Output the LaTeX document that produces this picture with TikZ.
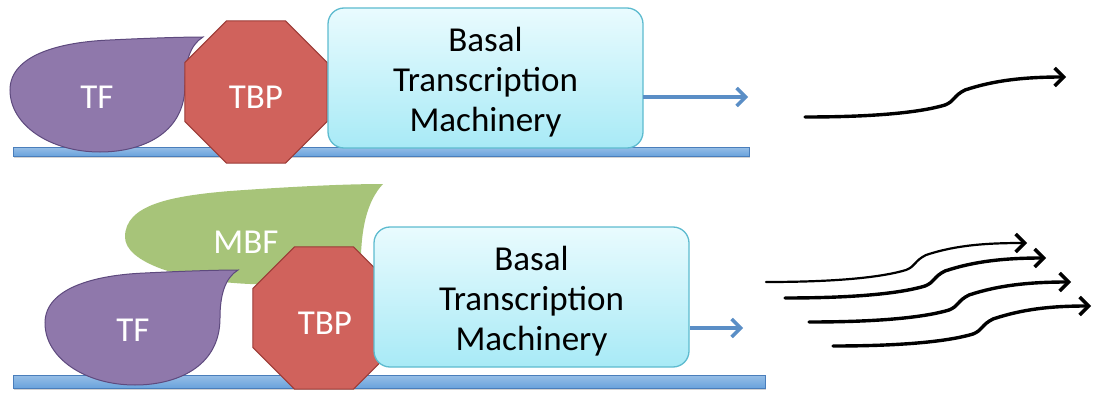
\documentclass[tikz,border=0pt]{standalone}
\usepackage{fontspec}
\setmainfont{Carlito}
\usetikzlibrary{arrows.meta,shapes.geometric,shadows}

\definecolor{dnafill}{HTML}{6AA3DC}
\definecolor{dnaline}{HTML}{4A7EBB}
\definecolor{tffill}{HTML}{8F78AB}
\definecolor{tfline}{HTML}{5E4A7E}
\definecolor{tbpfill}{HTML}{D0625C}
\definecolor{tbpline}{HTML}{9B3B37}
\definecolor{mbffill}{HTML}{A7C479}
\definecolor{boxtop}{HTML}{E9FBFE}
\definecolor{boxbot}{HTML}{A8EAF6}
\definecolor{boxline}{HTML}{5DBBCF}
\definecolor{flow}{HTML}{5A8EC6}

\tikzset{
  dna/.style={draw=dnaline, line width=0.9pt, top color=dnafill!70!white,
    bottom color=dnafill, drop shadow={shadow xshift=1pt, shadow yshift=-2pt, opacity=0.35}},
  tfshape/.style={draw=tfline, line width=1pt, fill=tffill},
  mbfshape/.style={fill=mbffill},
  tbpshape/.style={regular polygon, regular polygon sides=8, minimum size=154pt,
    inner sep=0pt, draw=tbpline, line width=1pt, fill=tbpfill},
  basal/.style={rectangle, rounded corners=16pt, minimum width=315pt, minimum height=140pt,
    draw=boxline, line width=1.3pt, top color=boxtop, bottom color=boxbot},
  boxtext/.style={align=center, font=\fontsize{35}{40}\selectfont, text=black},
  lbl/.style={text=white, font=\fontsize{35}{40}\selectfont},
  flowarrow/.style={draw=flow, line width=3.5pt, -{Straight Barb[length=9pt, width=18pt, line width=3.5pt]}},
  rna/.style={draw=black, line width=3.4pt, line cap=round,
    -{Straight Barb[length=9pt, width=18pt, line width=3.4pt]}},
  rnathin/.style={rna, line width=2.2pt}
}

% one transcript: a gentle rise, an S-bend, then a nearly flat run into the tip
\newcommand{\transcript}[3]{%
  \draw[#1] (#2) .. controls +(80,0) and +(-20,6) .. ++(140,-12)
     .. controls +(10,-4) and +(-12,6) .. ++(20,-15)
     .. controls +(30,-10) and +(-40,0) .. (#3);}

\begin{document}
\begin{tikzpicture}[x=1pt, y=-1pt]
\useasboundingbox (0,0) rectangle (1096,396);

% ---------------- basal level of transcription ----------------
\path[dna] (13,147) rectangle (749,156);

\draw[tfshape] (203,37) .. controls (190,45) and (185,62) .. (185,85)
  .. controls (185,135) and (140,152) .. (100,152)
  .. controls (50,152) and (10,125) .. (10,90)
  .. controls (10,55) and (60,42) .. (110,40)
  .. controls (150,38) and (185,37) .. (203,37) -- cycle;
\node[lbl] (tf1) at (97,97) {TF};

\node[tbpshape] (tbp1) at (256,92) {};
\node[lbl] (tbp1l) at (256,97) {TBP};

\node[basal] (btm1) at (485.5,78) {};
\node[boxtext] (btm1t) at ([yshift=-4pt]btm1.center) {Basal\\Transcription\\Machinery};

\coordinate (f1s) at (643,97);
\coordinate (f1e) at (748,97);
\draw[flowarrow] (f1s) -- (f1e);

\coordinate (r1s) at (805,117);
\coordinate (r1e) at (1066,77);
\transcript{rna}{r1s}{r1e}

% ---------------- enhanced level of transcription ----------------
\path[dna] (13,375) rectangle (765,388);

\fill[mbfshape] (383,184) .. controls (368,200) and (362,225) .. (361,255)
  .. controls (358,280) and (300,286) .. (250,284)
  .. controls (180,281) and (125,262) .. (125,237)
  .. controls (125,205) and (170,196) .. (230,191)
  .. controls (300,186) and (350,184) .. (383,184) -- cycle;
\node[lbl] (mbf) at (246,242) {MBF};

\begin{scope}[shift={(35,233)}]
\draw[tfshape] (203,37) .. controls (190,45) and (185,62) .. (185,85)
  .. controls (185,135) and (140,152) .. (100,152)
  .. controls (50,152) and (10,125) .. (10,90)
  .. controls (10,55) and (60,42) .. (110,40)
  .. controls (150,38) and (185,37) .. (203,37) -- cycle;
\end{scope}
\node[lbl] (tf2) at (133,330) {TF};

\node[tbpshape] (tbp2) at (324,318) {};
\node[lbl] (tbp2l) at (325,323) {TBP};

\node[basal] (btm2) at (531.5,297) {};
\node[boxtext] (btm2t) at ([yshift=-4pt]btm2.center) {Basal\\Transcription\\Machinery};

\coordinate (f2s) at (690,328);
\coordinate (f2e) at (743,328);
\draw[flowarrow] (f2s) -- (f2e);

\coordinate (r2s) at (766,282);
\coordinate (r2e) at (1027,243);
\transcript{rnathin}{r2s}{r2e}
\coordinate (r3s) at (785,298);
\coordinate (r3e) at (1046,258);
\transcript{rna}{r3s}{r3e}
\coordinate (r4s) at (809,322);
\coordinate (r4e) at (1071,282);
\transcript{rna}{r4s}{r4e}
\coordinate (r5s) at (833,346);
\coordinate (r5e) at (1091,306);
\transcript{rna}{r5s}{r5e}
\end{tikzpicture}
\end{document}
